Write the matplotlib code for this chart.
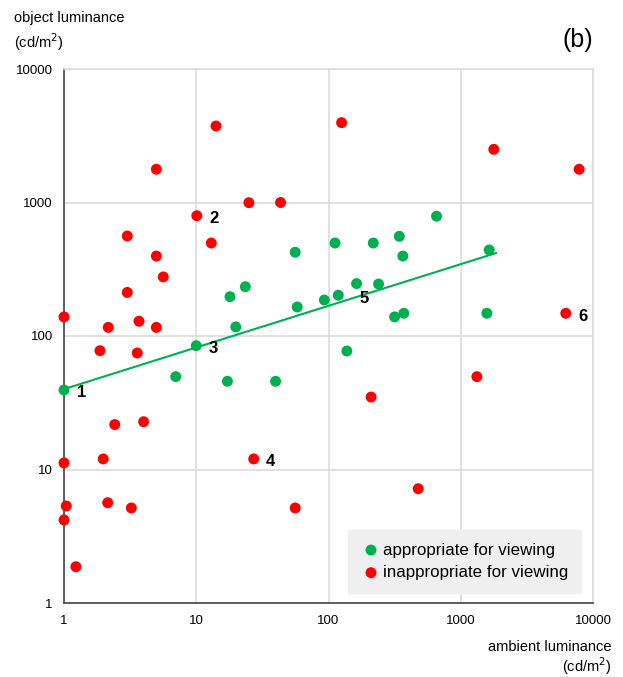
import numpy as np
import matplotlib.pyplot as plt

plt.rcParams['font.family'] = ['Liberation Sans', 'DejaVu Sans']

# appropriate for viewing (green)
good_x = [1, 7.0, 10, 17.2, 18, 19.9, 23.5, 39.8, 56, 58, 93, 112, 118.5, 137.6,
          163, 218, 239, 316, 343, 365, 371, 656, 1575, 1640]
good_y = [39.4, 49.6, 84.6, 45.8, 197, 117, 234, 45.8, 424, 165, 186, 497, 202, 77.2,
          247, 497, 245, 139, 558, 397, 148, 789, 148, 441]

# inappropriate for viewing (red)
bad_x = [1, 1, 1.04, 1, 1.23, 1.87, 1.98, 2.14, 2.16, 2.42, 3.01, 3.01, 3.23, 3.58,
         3.69, 4.0, 4.99, 4.99, 4.99, 5.63, 10.1, 13, 14.1, 25, 27.2, 43.4, 56,
         125.6, 210, 477, 1324, 1778, 6227, 7853]
bad_y = [139, 11.2, 5.33, 4.19, 1.87, 77.6, 12, 5.64, 116, 21.7, 561, 212, 5.15, 74.6,
         129, 22.8, 1774, 397, 116, 277, 796, 497, 3741, 997, 12, 1000, 5.15,
         3963, 34.9, 7.18, 49.6, 2502, 148, 1774]

# power-law trend line y = a * x^b
trend_a = 40
trend_b = 0.312
trend_range = [1, 1850]

# numbered cases
case_labels = ['1', '2', '3', '4', '5', '6']
case_x = [1, 10.1, 10, 27.2, 137.6, 6227]
case_y = [39.4, 796, 84.6, 12, 202, 148]

fig = plt.figure(figsize=(6.23, 6.77), dpi=100)
ax = fig.add_axes([64 / 623, 1 - 603 / 677, 529 / 623, 534 / 677])
ax.set_xscale('log')
ax.set_yscale('log')
ax.set_xlim(1, 10000)
ax.set_ylim(1, 10000)

ax.grid(True, which='major', color='#dcdcdc', lw=1.2, zorder=0)
ax.minorticks_off()
ax.tick_params(length=0, labelsize=9.5)
ax.tick_params(axis='x', pad=9)
ax.tick_params(axis='y', pad=8)
ticks = [1, 10, 100, 1000, 10000]
ax.set_xticks(ticks)
ax.set_xticklabels([str(t) for t in ticks])
ax.set_yticks(ticks)
ax.set_yticklabels([str(t) for t in ticks])
for s in ['top', 'right']:
    ax.spines[s].set_color('#dcdcdc')
    ax.spines[s].set_linewidth(1.2)
for s in ['left', 'bottom']:
    ax.spines[s].set_color('#444444')
    ax.spines[s].set_linewidth(1.2)

tx = np.logspace(np.log10(trend_range[0]), np.log10(trend_range[1]), 50)
ax.plot(tx, trend_a * tx ** trend_b, color='#00b050', lw=1.5, zorder=2)

ax.scatter(good_x, good_y, s=62, color='#00b050', edgecolors='none', zorder=3,
           clip_on=False, label='appropriate for viewing')
ax.scatter(bad_x, bad_y, s=62, color='#ff0000', edgecolors='none', zorder=3,
           clip_on=False, label='inappropriate for viewing')

for lab, x, y in zip(case_labels, case_x, case_y):
    ax.annotate(lab, (x, y), xytext=(9, -2), textcoords='offset points',
                fontsize=12, fontweight='bold', va='center', ha='left')

leg = ax.legend(loc='lower right', bbox_to_anchor=(0.977, 0.019), fontsize=12.2,
                frameon=True, fancybox=False, handletextpad=0.1,
                borderpad=0.75, labelspacing=0.45, handlelength=1.2,
                borderaxespad=0)
leg.get_frame().set_facecolor('#efefef')
leg.get_frame().set_edgecolor('#efefef')
leg.get_frame().set_alpha(1)

fig.text(14 / 623, 1 - 18 / 677, 'object luminance', fontsize=10.5, va='center')
fig.text(14 / 623, 1 - 42 / 677, '(cd/m$^2$)', fontsize=10.5, va='center')
fig.text(593 / 623, 1 - 40 / 677, '(b)', fontsize=18, va='center', ha='right')
fig.text(612 / 623, 1 - 647 / 677, 'ambient luminance', fontsize=10.5,
         va='center', ha='right')
fig.text(612 / 623, 1 - 666 / 677, '(cd/m$^2$)', fontsize=10.5,
         va='center', ha='right')

fig.savefig('out.png', dpi=100)
